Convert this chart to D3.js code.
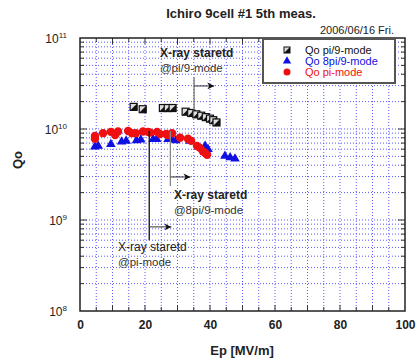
<!DOCTYPE html>
<html>
<head>
<meta charset="utf-8">
<script src="https://cdn.jsdelivr.net/npm/d3@7"></script>
<style>
  body { margin: 0; background: #fff; }
  svg { font-family: "Liberation Sans", Arial, sans-serif; }
  .grid line { stroke: #5a5aff; stroke-width: 1; stroke-dasharray: 1 2; }
</style>
</head>
<body>
<svg id="chart" width="419" height="361"></svg>
<script>
// Qo pi/9-mode (black squares)
const epPi9 = [16.5, 19.3, 25.5, 27.0, 28.5, 32.5, 34.2, 35.8, 37.3, 38.7, 40.0, 41.0, 42.0];
const qoPi9 = [1.75e10, 1.65e10, 1.70e10, 1.70e10, 1.70e10, 1.55e10, 1.50e10, 1.45e10, 1.40e10, 1.35e10, 1.30e10, 1.25e10, 1.18e10];

// Qo 8pi/9-mode (blue triangles)
const ep8Pi9 = [4.6, 5.6, 9.5, 12.8, 14.2, 17.4, 18.7, 22.5, 23.6, 27.1, 28.2, 29.5, 33.8, 38.5, 39.4, 44.6, 46.2, 47.7];
const qo8Pi9 = [0.64e10, 0.65e10, 0.68e10, 0.725e10, 0.74e10, 0.75e10, 0.76e10, 0.77e10, 0.77e10, 0.77e10, 0.77e10, 0.75e10, 0.74e10, 0.65e10, 0.60e10, 0.505e10, 0.485e10, 0.47e10];

// Qo pi-mode (red circles)
const epPi = [4.6, 4.6, 7.1, 9.5, 10.8, 11.7, 14.8, 16.0, 17.2, 19.4, 20.9, 21.5, 23.7, 24.6, 26.5, 27.1, 28.3, 30.8, 33.2, 34.2, 36.0, 36.9, 37.8, 38.5, 39.1];
const qoPi = [0.84e10, 0.78e10, 0.90e10, 0.93e10, 0.86e10, 0.94e10, 0.95e10, 0.90e10, 0.90e10, 0.94e10, 0.93e10, 0.915e10, 0.93e10, 0.88e10, 0.88e10, 0.86e10, 0.90e10, 0.80e10, 0.78e10, 0.74e10, 0.65e10, 0.62e10, 0.57e10, 0.545e10, 0.52e10];

const xTicks = [0, 20, 40, 60, 80, 100];
const yTicks = [1e8, 1e9, 1e10, 1e11];

// X-ray start annotations (Ep where X-rays started, line extent and arrow in Qo, label anchor)
const xrayEp = [35.1, 27.8, 21.3];
const xrayQoTop = [3.7e10, 0.95e10, 0.95e10];
const xrayQoBottom = [1.62e10, 0.236e10, 6.0e8];
const xrayQoArrow = [2.97e10, 0.297e10, 8.4e8];
const xrayArrowLen = [6.2, 6.2, 6.8];
const xrayTextEp = [24.6, 28.9, 11.7];
const xrayTextQo = [6.18e10, 0.17e10, 4.56e8];
const xrayText2 = ["@pi/9-mode", "@8pi/9-mode", "@pi-mode"];
const xrayLineColor = ["#777", "#888", "#111"];

const legNames = ["Qo pi/9-mode", "Qo 8pi/9-mode", "Qo pi-mode"];

const svg = d3.select("#chart");
const pLeft = 80, pRight = 405, pTop = 38, pBottom = 311;

const x = d3.scaleLinear().domain([0, 100]).range([pLeft, pRight]);
const y = d3.scaleLog().domain([1e8, 1e11]).range([pBottom, pTop]);

// grid
const grid = svg.append("g").attr("class", "grid");
const xGrid = d3.range(5, 100, 5);
grid.selectAll("line.v").data(xGrid).enter().append("line")
    .attr("x1", d => x(d)).attr("x2", d => x(d))
    .attr("y1", pTop).attr("y2", pBottom);
const yGrid = [];
[1e8, 1e9, 1e10].forEach(dec => { for (let k = 1; k < 10; k++) if (dec * k > 1e8) yGrid.push(dec * k); });
grid.selectAll("line.h").data(yGrid).enter().append("line")
    .attr("x1", pLeft).attr("x2", pRight)
    .attr("y1", d => y(d)).attr("y2", d => y(d));

// inner tick marks
const isDecade = d => Math.abs(Math.log10(d) % 1) < 1e-9;
const ticks = svg.append("g").attr("stroke", "#333").attr("stroke-width", 1);
ticks.selectAll("line.b").data(xGrid).enter().append("line")
    .attr("x1", d => x(d)).attr("x2", d => x(d)).attr("y1", pBottom).attr("y2", d => pBottom - (d % 10 ? 4 : 6));
ticks.selectAll("line.t").data(xGrid).enter().append("line")
    .attr("x1", d => x(d)).attr("x2", d => x(d)).attr("y1", pTop).attr("y2", d => pTop + (d % 10 ? 4 : 6));
ticks.selectAll("line.l").data(yGrid).enter().append("line")
    .attr("x1", pLeft).attr("x2", d => pLeft + (isDecade(d) ? 7 : 4))
    .attr("y1", d => y(d)).attr("y2", d => y(d));
ticks.selectAll("line.r").data(yGrid).enter().append("line")
    .attr("x1", pRight).attr("x2", d => pRight - (isDecade(d) ? 7 : 4))
    .attr("y1", d => y(d)).attr("y2", d => y(d));

// frame
svg.append("rect").attr("x", pLeft).attr("y", pTop)
    .attr("width", pRight - pLeft).attr("height", pBottom - pTop)
    .attr("fill", "none").attr("stroke", "#222").attr("stroke-width", 1.5);

// x axis labels
const xAxis = svg.append("g").attr("transform", `translate(0,${pBottom})`)
    .call(d3.axisBottom(x).tickValues(xTicks).tickSize(0).tickPadding(9));
xAxis.select(".domain").remove();
xAxis.selectAll("text").attr("font-size", 12).attr("font-weight", "bold").attr("fill", "#222");

// y axis labels
const yAxis = svg.append("g").attr("transform", `translate(${pLeft},0)`)
    .call(d3.axisLeft(y).tickValues(yTicks).tickSize(0).tickPadding(13).tickFormat(() => ""));
yAxis.select(".domain").remove();
yAxis.selectAll("text").each(function (d) {
  const t = d3.select(this).attr("font-size", 12).attr("fill", "#222");
  t.append("tspan").text("10");
  t.append("tspan").attr("dy", -5).attr("font-size", 8).text(Math.round(Math.log10(d)));
}).attr("dy", "0.4em");

// titles
svg.append("text").attr("x", 241).attr("y", 18).attr("text-anchor", "middle")
    .attr("font-size", 13).attr("font-weight", "bold").attr("fill", "#222")
    .text("Ichiro 9cell #1 5th meas.");
svg.append("text").attr("x", 394).attr("y", 34).attr("text-anchor", "end")
    .attr("font-size", 11).attr("fill", "#222").text("2006/06/16 Fri.");
svg.append("text").attr("x", 242).attr("y", 355).attr("text-anchor", "middle")
    .attr("font-size", 13).attr("font-weight", "bold").attr("fill", "#222").text("Ep [MV/m]");
svg.append("text").attr("transform", "translate(22,160) rotate(-90)").attr("text-anchor", "middle")
    .attr("font-size", 13).attr("font-weight", "bold").attr("fill", "#222").text("Qo");

// arrow marker
svg.append("defs").append("marker").attr("id", "arr")
    .attr("viewBox", "0 0 10 10").attr("refX", 10).attr("refY", 5)
    .attr("markerWidth", 9).attr("markerHeight", 7).attr("markerUnits", "userSpaceOnUse")
    .attr("orient", "auto")
    .append("path").attr("d", "M0,0L10,5L0,10L3,5Z").attr("fill", "#111");

// pi/9-mode squares
const pi9 = epPi9.map((e, i) => ({ e, q: qoPi9[i] }));
svg.append("g").selectAll("g").data(pi9).enter().append("g")
    .attr("transform", d => `translate(${x(d.e)},${y(d.q)})`)
    .each(function () {
      const g = d3.select(this);
      g.append("rect").attr("x", -3.5).attr("y", -3.5).attr("width", 7).attr("height", 7)
          .attr("fill", "#ddd").attr("stroke", "#111").attr("stroke-width", 1.2);
      g.append("path").attr("d", "M3.5,-3.5L3.5,3.5L-3.5,3.5Z").attr("fill", "#111");
    });

// 8pi/9-mode triangles
const tri = ep8Pi9.map((e, i) => ({ e, q: qo8Pi9[i] }));
svg.append("g").selectAll("path").data(tri).enter().append("path")
    .attr("transform", d => `translate(${x(d.e)},${y(d.q)})`)
    .attr("d", d3.symbol(d3.symbolTriangle, 40))
    .attr("fill", "#1010e0");

// pi-mode circles
const circ = epPi.map((e, i) => ({ e, q: qoPi[i] }));
svg.append("g").selectAll("circle").data(circ).enter().append("circle")
    .attr("cx", d => x(d.e)).attr("cy", d => y(d.q)).attr("r", 4.2)
    .attr("fill", "#ee1010");

// X-ray annotations
xrayEp.forEach((ep, i) => {
  const lx = x(ep);
  svg.append("line").attr("x1", lx).attr("x2", lx)
      .attr("y1", y(xrayQoTop[i])).attr("y2", y(xrayQoBottom[i]))
      .attr("stroke", xrayLineColor[i]).attr("stroke-width", 1.3);
  svg.append("line").attr("x1", lx).attr("x2", x(ep + xrayArrowLen[i]))
      .attr("y1", y(xrayQoArrow[i])).attr("y2", y(xrayQoArrow[i]))
      .attr("stroke", "#333").attr("stroke-width", 1).attr("marker-end", "url(#arr)");
  const tx = x(xrayTextEp[i]), ty = y(xrayTextQo[i]);
  svg.append("text").attr("x", tx).attr("y", ty).attr("font-size", 12)
      .attr("font-weight", i < 2 ? "bold" : "normal").attr("fill", "#222").text("X-ray staretd");
  svg.append("text").attr("x", tx).attr("y", ty + 15).attr("font-size", 11.5)
      .attr("fill", "#333").text(xrayText2[i]);
});

// legend
const leg = svg.append("g");
leg.append("rect").attr("x", 263).attr("y", 39).attr("width", 132).attr("height", 44)
    .attr("fill", "#fff").attr("stroke", "#555").attr("stroke-width", 2);
const legColors = ["#111", "#1010e0", "#ee1010"];
legNames.forEach((name, i) => {
  const ly = 50 + i * 11;
  if (i === 0) {
    leg.append("rect").attr("x", 284).attr("y", ly - 3).attr("width", 6).attr("height", 6)
        .attr("fill", "#ddd").attr("stroke", "#111");
    leg.append("path").attr("d", `M290,${ly - 3}L290,${ly + 3}L284,${ly + 3}Z`).attr("fill", "#111");
  } else if (i === 1) {
    leg.append("path").attr("transform", `translate(287,${ly})`)
        .attr("d", d3.symbol(d3.symbolTriangle, 30)).attr("fill", legColors[i]);
  } else {
    leg.append("circle").attr("cx", 287).attr("cy", ly).attr("r", 3.5).attr("fill", legColors[i]);
  }
  leg.append("text").attr("x", 305).attr("y", ly + 4).attr("font-size", 11)
      .attr("fill", legColors[i]).text(name);
});
</script>
</body>
</html>
